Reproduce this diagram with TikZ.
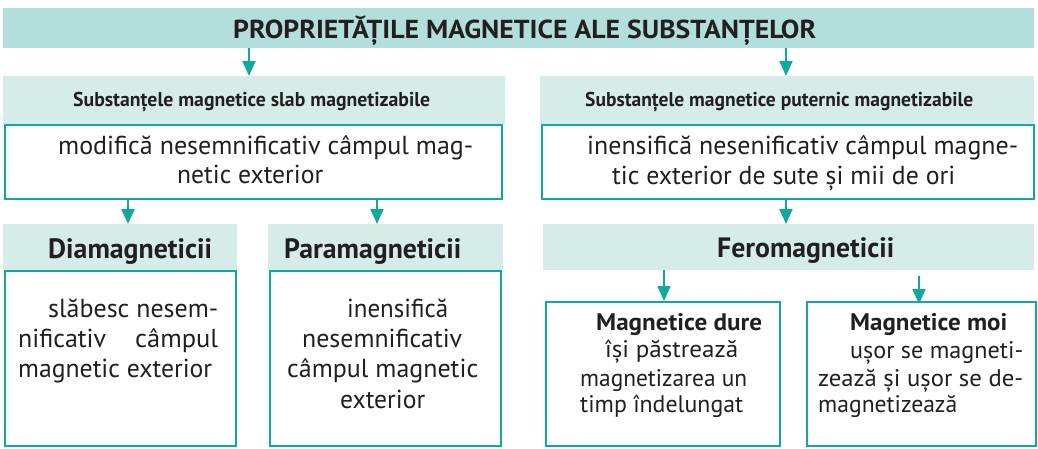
\documentclass[tikz,border=0pt]{standalone}
\usepackage{fontspec}
\setmainfont{PT Sans}
\usetikzlibrary{arrows.meta}
\definecolor{tealA}{HTML}{13A89E}
\definecolor{bannerC}{HTML}{B2DFDB}
\definecolor{headC}{HTML}{D6ECE9}
\definecolor{inkC}{HTML}{231F20}
\newcommand\fw[2]{\resizebox{#1pt}{\height}{#2}}
\newcommand\titlef{\fontsize{26}{30}\bfseries\selectfont}
\newcommand\subf{\fontsize{20}{23}\bfseries\selectfont}
\newcommand\headf{\fontsize{28}{31}\bfseries\selectfont}
\newcommand\bodyf{\fontsize{26}{29}\selectfont}
\newcommand\smallbf{\fontsize{24}{28}\bfseries\selectfont}
\newcommand\smallf{\fontsize{24}{27}\selectfont}
\begin{document}
\begin{tikzpicture}[x=1pt,y=-1pt,
  band/.style={fill=bannerC, draw=none, inner sep=0, anchor=north west},
  hdr/.style={fill=headC, draw=none, inner sep=0, anchor=north west},
  box/.style={fill=white, draw=tealA, line width=2.4pt, inner sep=0, anchor=north west},
  txt/.style={inner sep=0, anchor=base west, text=inkC},
  arr/.style={draw=tealA, line width=2.2pt, -{Triangle[width=13pt,length=15pt]}}]
\useasboundingbox (0,0) rectangle (1038,448);
% banner and headers
\node[band, minimum width=1031pt, minimum height=40pt] (topb) at (3,8) {};
\node[hdr, minimum width=502pt, minimum height=48pt] (lh) at (3,76) {};
\node[hdr, minimum width=494pt, minimum height=48pt] (rh) at (540,76) {};
\node[hdr, minimum width=234pt, minimum height=46pt] (dh) at (3,224) {};
\node[hdr, minimum width=235pt, minimum height=46pt] (ph) at (268,224) {};
\node[hdr, minimum width=491pt, minimum height=46pt] (fh) at (543,224) {};
% boxes
\node[box, minimum width=497pt, minimum height=74pt] (lb) at (4,124) {};
\node[box, minimum width=492pt, minimum height=74pt] (rb) at (541,124) {};
\node[box, minimum width=231pt, minimum height=175pt] (db) at (4,270) {};
\node[box, minimum width=231pt, minimum height=175pt] (pb) at (269,270) {};
\node[box, minimum width=234pt, minimum height=144pt] (hb) at (545,301) {};
\node[box, minimum width=229pt, minimum height=144pt] (sb) at (806,301) {};
% arrow columns
\coordinate (c1) at (249,0);
\coordinate (c2) at (786,0);
\coordinate (c3) at (128,0);
\coordinate (c4) at (377,0);
\coordinate (c5) at (664,0);
\coordinate (f2s) at (919,276);
\draw[arr] (topb.south -| c1) -- (lh.north -| c1);
\draw[arr] (topb.south -| c2) -- (rh.north -| c2);
\draw[arr] (lb.south -| c3) -- (dh.north -| c3);
\draw[arr] (lb.south -| c4) -- (ph.north -| c4);
\draw[arr] (rb.south -| c2) -- (fh.north -| c2);
\draw[arr] (fh.south -| c5) -- (hb.north -| c5);
\draw[arr] (f2s) -- ([yshift=-3pt]sb.north -| f2s);
% texts
\node[txt] (tt) at (233,38) {\titlef\fw{583}{PROPRIETĂȚILE MAGNETICE ALE SUBSTANȚELOR}};
\node[txt] (ls) at (73,106) {\subf\fw{357}{Substanțele magnetice slab magnetizabile}};
\node[txt] (rs) at (585,106) {\subf\fw{388}{Substanțele magnetice puternic magnetizabile}};
\node[txt] (l1) at (58,154) {\bodyf\fw{415}{modifică nesemnificativ câmpul mag-}};
\node[txt] (l2) at (177,183) {\bodyf\fw{146}{netic exterior}};
\node[txt] (r1) at (587,154) {\bodyf\fw{431}{inensifică nesenificativ câmpul magne-}};
\node[txt] (r2) at (612,184) {\bodyf\fw{343}{tic exterior de sute și mii de ori}};
\node[txt] (dt) at (48,258) {\headf\fw{164}{Diamagneticii}};
\node[txt] (pt) at (284,258) {\headf\fw{177}{Paramagneticii}};
\node[txt] (ft) at (717,257) {\headf\fw{177}{Feromagneticii}};
\node[txt] (d1) at (48,317) {\bodyf\fw{170}{slăbesc nesem-}};
\node[txt] (d2) at (18,347) {\bodyf\makebox[200pt][s]{\fw{88}{nificativ}\hfill\fw{83}{câmpul}}};
\node[txt] (d3) at (18,377) {\bodyf\fw{194}{magnetic exterior}};
\node[txt] (p1) at (347,317) {\bodyf\fw{101}{inensifică}};
\node[txt] (p2) at (302,347) {\bodyf\fw{160}{nesemnificativ}};
\node[txt] (p3) at (287,377) {\bodyf\fw{191}{câmpul magnetic}};
\node[txt] (p4) at (340,408) {\bodyf\fw{85}{exterior}};
\node[txt] (h1) at (596,330) {\smallbf\fw{166}{Magnetice dure}};
\node[txt] (h2) at (605,357) {\smallf\fw{133}{își păstrează}};
\node[txt] (h3) at (580,386) {\smallf\fw{167}{magnetizarea un}};
\node[txt] (h4) at (580,412) {\smallf\fw{163}{timp îndelungat}};
\node[txt] (s1) at (850,330) {\smallbf\fw{157}{Magnetice moi}};
\node[txt] (s2) at (850,358) {\smallf\fw{173}{ușor se magneti-}};
\node[txt] (s3) at (818,386) {\smallf\fw{205}{zează și ușor se de-}};
\node[txt] (s4) at (818,412) {\smallf\fw{139}{magnetizează}};
\end{tikzpicture}
\end{document}
